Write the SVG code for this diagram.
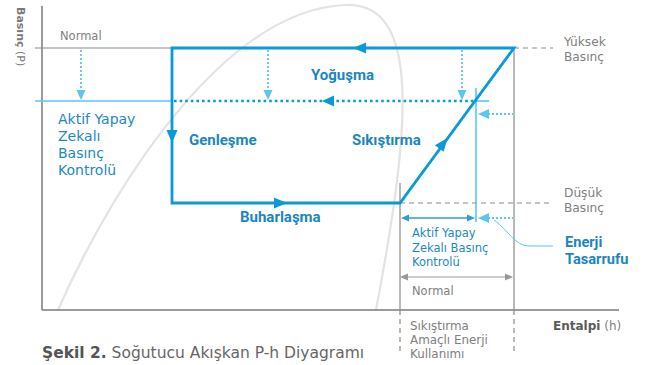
<svg xmlns="http://www.w3.org/2000/svg" width="645" height="365" viewBox="0 0 645 365">
<style>
text{font-family:"DejaVu Sans","Noto Sans","Liberation Sans",sans-serif}
.g{fill:#808080;font-size:12.2px}
.b{fill:#1b8ac3;font-size:14px}
.bb{fill:#1b86bd;font-size:15px;font-weight:bold;font-family:Roboto,"Noto Sans",sans-serif}
.cyc{fill:none;stroke:#0a9ad6;stroke-width:2.8;stroke-linejoin:miter}
.ah{fill:#0a9ad6}
.lb{fill:#5bc6f0}
.ldot{stroke:#5bc6f0;stroke-width:1.8;stroke-dasharray:2 2;fill:none}
.gdash{stroke:#8a8a8a;stroke-width:1.2;stroke-dasharray:5 4;fill:none}
.gl{stroke:#8a8a8a;stroke-width:1.2;fill:none}
</style>
<rect width="645" height="365" fill="#fff"/>
<g id="dome">
<path d="M58,310 C120,170 230,10 345,5 C420,2 412,120 376,310" fill="none" stroke="#e3e3e3" stroke-width="2.2"/>
</g>
<g id="axes">
<line x1="42" y1="6" x2="42" y2="310" stroke="#7a7a7a" stroke-width="1.5"/>
<line x1="42" y1="310" x2="619" y2="310" stroke="#7a7a7a" stroke-width="1.5"/>
<text transform="translate(17,7) rotate(90)" style="font-size:11px" fill="#7a7a7a"><tspan font-weight="bold">Basınç</tspan> (P)</text>
<text x="553" y="330" style="font-size:12px" fill="#5a5a5a"><tspan font-weight="bold">Entalpi</tspan> <tspan fill="#808080">(h)</tspan></text>
</g>
<g id="guides">
<line x1="35" y1="48" x2="172" y2="48" class="gl"/>
<line x1="514" y1="48" x2="553" y2="48" class="gdash"/>
<line x1="400" y1="203" x2="553" y2="203" class="gdash"/>
<line x1="35" y1="101" x2="172" y2="101" stroke="#5bc6f0" stroke-width="1.6"/>
<line x1="400" y1="183" x2="400" y2="310" class="gl"/>
<line x1="514" y1="48" x2="514" y2="310" class="gl"/>
<line x1="400" y1="310" x2="400" y2="352" class="gdash"/>
<line x1="514" y1="310" x2="514" y2="352" class="gdash"/>
<line x1="476" y1="88" x2="476" y2="222" stroke="#5bc6f0" stroke-width="1.6"/>
<line x1="475" y1="101" x2="489" y2="101" stroke="#5bc6f0" stroke-width="1.6"/>
</g>
<g id="connectors">
<path class="cyc" d="M172,48 H514 L400,203 H172 Z"/>
<polygon class="ah" points="353,48 366,42.5 366,53.5"/>
<polygon class="ah" points="172,143 166.5,130 177.5,130"/>
<polygon class="ah" points="287,203 274,197.5 274,208.5"/>
<polygon class="ah" points="447.5,138 443.7,151.8 434.9,145.2"/>
<line x1="174" y1="101" x2="475" y2="101" stroke="#0a9ad6" stroke-width="2.6" stroke-dasharray="2.6 3"/>
<polygon class="ah" points="322,101 334,95.5 334,106.5"/>
<line x1="81" y1="50" x2="81" y2="91" class="ldot"/>
<polygon class="lb" points="81,100 76.5,90 85.5,90"/>
<line x1="268" y1="50" x2="268" y2="91" class="ldot"/>
<polygon class="lb" points="268,100 263.5,90 272.5,90"/>
<line x1="462" y1="50" x2="462" y2="91" class="ldot"/>
<polygon class="lb" points="462,100 457.5,90 466.5,90"/>
<line x1="488" y1="114" x2="513" y2="114" class="ldot"/>
<polygon class="lb" points="478,114 489,109 489,119"/>
<line x1="488" y1="218" x2="513" y2="218" class="ldot"/>
<polygon class="lb" points="478,218 489,213 489,223"/>
<path d="M494,220 C510,232 515,246 530,246 H553" fill="none" stroke="#5bc6f0" stroke-width="1"/>
<line x1="405" y1="218" x2="470" y2="218" stroke="#2a9fd8" stroke-width="1.4"/>
<polygon points="401,218 409,214.5 409,221.5" fill="#2a9fd8"/>
<polygon points="475,218 467,214.5 467,221.5" fill="#2a9fd8"/>
<line x1="404" y1="277" x2="509" y2="277" stroke="#999" stroke-width="1.2"/>
<polygon points="400,277 408,273.5 408,280.5" fill="#999"/>
<polygon points="513,277 505,273.5 505,280.5" fill="#999"/>
</g>
<g id="labels">
<text class="g" x="60" y="40" style="font-size:11.5px">Normal</text>
<text class="b"><tspan x="58" y="124">Aktif Yapay</tspan><tspan x="58" y="141">Zekalı</tspan><tspan x="58" y="158">Basınç</tspan><tspan x="58" y="175">Kontrolü</tspan></text>
<text class="bb" x="311" y="80">Yoğuşma</text>
<text class="bb" x="189" y="145">Genleşme</text>
<text class="bb" x="352" y="145">Sıkıştırma</text>
<text class="bb" x="240" y="222">Buharlaşma</text>
<text class="g"><tspan x="564" y="46">Yüksek</tspan><tspan x="564" y="61">Basınç</tspan></text>
<text class="g"><tspan x="564" y="197">Düşük</tspan><tspan x="564" y="212">Basınç</tspan></text>
<text class="bb" style="font-size:14.6px" fill="#0a8fcf"><tspan x="565" y="247">Enerji</tspan><tspan x="565" y="264">Tasarrufu</tspan></text>
<text class="b" style="font-size:11.5px"><tspan x="412" y="237">Aktif Yapay</tspan><tspan x="412" y="251.5">Zekalı Basınç</tspan><tspan x="412" y="266">Kontrolü</tspan></text>
<text class="g" x="412" y="295" style="font-size:11.5px">Normal</text>
<text class="g" style="font-size:11.9px"><tspan x="410" y="330">Sıkıştırma</tspan><tspan x="410" y="344">Amaçlı Enerji</tspan><tspan x="410" y="358">Kullanımı</tspan></text>
<text x="42" y="358" style="font-size:15.5px" fill="#666"><tspan font-weight="bold" fill="#555">Şekil 2.</tspan> Soğutucu Akışkan P-h Diyagramı</text>
</g>
</svg>
